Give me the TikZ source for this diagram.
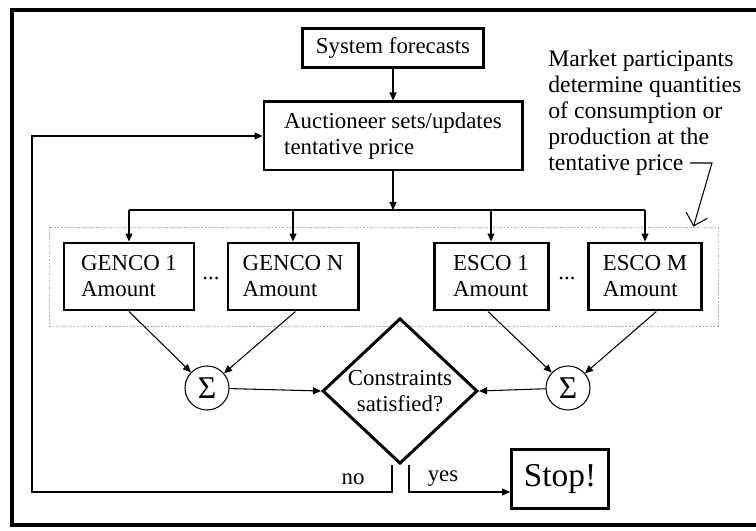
\documentclass[tikz,border=0pt]{standalone}
\usepackage{fontspec}
\setmainfont{Liberation Serif}
\usetikzlibrary{shapes.geometric,arrows.meta}

\tikzset{
	box/.style={draw, line width=1.7pt, minimum height=1.34cm, align=left},
	group/.style={draw=gray!60, dash pattern=on 1pt off 1pt, line width=0.5pt, inner sep=0pt, minimum width=13.38cm, minimum height=1.98cm},
	sum/.style={circle, draw, line width=0.6pt, minimum size=0.88cm, inner sep=0pt, font=\fontsize{18}{18}\selectfont},
	decision/.style={diamond, draw, line width=1.7pt, minimum width=3.1cm, minimum height=2.34cm, inner sep=0pt, align=center},
	link/.style={line width=0.6pt}
}

\begin{document}
\begin{tikzpicture}[x=0.2mm, y=-0.2mm, >={Triangle[length=1.6mm,width=1.4mm]},
	every node/.style={font=\fontsize{13}{14.8}\selectfont}]
			\useasboundingbox (0,0) rectangle (756,531);
			\draw[line width=2.8pt] (12,10) rectangle (770,525);
			
			\node[box, minimum width=3.62cm, minimum height=0.78cm] (forecast) at (393,48) {System forecasts};
			\node[box, minimum width=5.16cm, minimum height=1.36cm] (auction) at (393,136) {Auctioneer sets/updates\\tentative price};
			\node[group] (market) at (383.5,276.5) {};
			\node[box, minimum width=2.6cm] (genco1) at (129,276.5) {GENCO 1\\Amount};
			\node[box, minimum width=2.6cm] (gencoN) at (293,276.5) {GENCO N\\Amount};
			\node[box, minimum width=2.28cm] (esco1) at (491,276.5) {ESCO 1\\Amount};
			\node[box, minimum width=2.26cm] (escoM) at (645,276.5) {ESCO M\\Amount};
			\node (dotsG) at (211,278) {...};
			\node (dotsE) at (567,278) {...};
			\node[sum] (sumL) at (207,388) {Σ};
			\node[sum] (sumR) at (568,388) {Σ};
			\node[decision] (decide) at (400,391) {Constraints\\satisfied?};
			\node[box, minimum width=1.94cm, minimum height=1.18cm, font=\fontsize{19}{19}\selectfont] (stop) at (560,479) {Stop!};
			\node (no) at (353,479) {no};
			\node (yes) at (443,479) {yes};
			\node[align=left, anchor=north west, inner sep=0pt, font=\fontsize{13.5}{14.8}\selectfont] (note) at (548,50) {Market participants\\determine quantities\\of consumption or\\production at the\\tentative price};
			
			\coordinate (bus) at (393,210);
			\coordinate (loop) at (32,492);
			\coordinate (noteEnd) at (690,163);
			\coordinate (bend) at (712,163);
			
			\draw[link,->] (forecast) -- (auction);
			\draw[link,->] (auction) -- (bus);
			\draw[link] (genco1.north |- bus) -- (escoM.north |- bus);
			\foreach \n in {genco1,gencoN,esco1,escoM}
			\draw[link,->] (\n.north |- bus) -- (\n.north);
			\foreach \from/\to in {genco1.south/sumL,gencoN.-86/sumL,esco1.-95/sumR,escoM.-72/sumR}
			\draw[link,->] (\from) -- (\to);
			\draw[link,->] (sumL) -- (decide.west);
			\draw[link,->] (sumR) -- (decide.east);
			\draw[link,->] ([xshift=-0.16cm]decide.south) |- (loop) |- (auction.west);
			\draw[link,->] ([xshift=0.18cm]decide.south) |- (stop.west |- loop);
			\draw[link,-{Straight Barb[length=2.2mm]}] (noteEnd) -- (bend) -- ([xshift=-0.5cm]market.north east);
\end{tikzpicture}
\end{document}
